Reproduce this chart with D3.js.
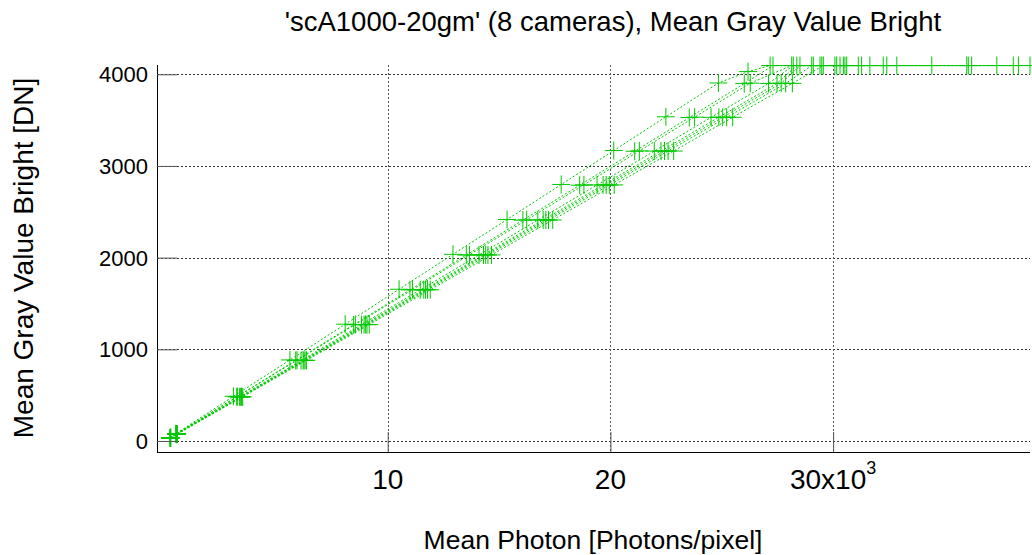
<!DOCTYPE html>
<html>
<head>
<meta charset="utf-8">
<script src="https://cdn.jsdelivr.net/npm/d3@7/dist/d3.min.js"></script>
<style>
  html, body { margin: 0; padding: 0; background: #fff; }
  svg { display: block; font-family: "Liberation Sans", Arial, sans-serif; }
</style>
</head>
<body>
<svg id="chart" width="1032" height="555"></svg>
<script>
// ---- Data (photons in thousands of photons/pixel, gray in DN) ----
const cameraNames = ["cam1", "cam2", "cam3", "cam4", "cam5", "cam6", "cam7", "cam8"];

const photonsCam1 = [0.22, 0.48, 3.08, 5.61, 8.09, 10.51, 12.93, 15.36, 17.79, 20.15, 22.49, 24.85, 26.18, 27.17, 29.41, 31.65, 34.43];
const grayCam1    = [36, 78, 488, 884, 1274, 1655, 2036, 2416, 2798, 3168, 3536, 3905, 4029, 4095, 4095, 4095, 4095];

const photonsCam2 = [0.23, 0.50, 3.22, 5.87, 8.47, 11.00, 13.53, 16.07, 18.62, 21.09, 23.54, 26.01, 27.30, 29.49, 32.25, 36.00, 38.84];
const grayCam2    = [34, 76, 482, 879, 1268, 1648, 2028, 2409, 2790, 3160, 3528, 3898, 4095, 4095, 4095, 4095, 4095];

const photonsCam3 = [0.24, 0.51, 3.25, 5.93, 8.55, 11.11, 13.67, 16.24, 18.81, 21.30, 23.78, 26.28, 28.14, 30.31, 32.41, 37.35];
const grayCam3    = [35, 77, 484, 881, 1271, 1651, 2031, 2412, 2794, 3164, 3532, 3903, 4095, 4095, 4095, 4095];

const photonsCam4 = [0.24, 0.52, 3.35, 6.11, 8.82, 11.46, 14.10, 16.74, 19.40, 21.97, 24.52, 27.10, 28.21, 30.46, 32.86, 38.09];
const grayCam4    = [33, 74, 481, 878, 1269, 1649, 2029, 2410, 2792, 3162, 3530, 3900, 4095, 4095, 4095, 4095];

const photonsCam5 = [0.25, 0.53, 3.40, 6.20, 8.94, 11.62, 14.30, 16.98, 19.67, 22.27, 24.87, 27.48, 28.37, 30.53, 36.22];
const grayCam5    = [34, 75, 482, 879, 1270, 1650, 2030, 2411, 2793, 3163, 3531, 3901, 4095, 4095, 4095];

const photonsCam6 = [0.25, 0.53, 3.43, 6.24, 9.01, 11.70, 14.40, 17.10, 19.81, 22.43, 25.04, 27.67, 28.51, 29.11, 30.61, 36.07];
const grayCam6    = [35, 76, 483, 880, 1271, 1650, 2030, 2411, 2793, 3163, 3531, 3902, 4095, 4095, 4095, 4095];

const photonsCam7 = [0.25, 0.54, 3.45, 6.29, 9.07, 11.79, 14.50, 17.22, 19.95, 22.59, 25.22, 27.87, 29.04, 30.08, 31.13, 38.32];
const grayCam7    = [33, 75, 481, 879, 1269, 1649, 2029, 2410, 2792, 3162, 3530, 3900, 4095, 4095, 4095, 4095];

const photonsCam8 = [0.26, 0.55, 3.49, 6.35, 9.17, 11.91, 14.66, 17.41, 20.17, 22.84, 25.49, 28.17, 29.56, 30.16, 31.28];
const grayCam8    = [34, 76, 482, 880, 1270, 1650, 2030, 2411, 2793, 3163, 3531, 3901, 4095, 4095, 4095];

const xTickValues = [10, 20, 30];
const xTickLabels = ["10", "20", "30x10"];
const yTickValues = [0, 1000, 2000, 3000, 4000];

const titleText  = "'scA1000-20gm' (8 cameras), Mean Gray Value Bright";
const xAxisTitle = "Mean Photon [Photons/pixel]";
const yAxisTitle = "Mean Gray Value Bright [DN]";

const photonSeries = [photonsCam1, photonsCam2, photonsCam3, photonsCam4, photonsCam5, photonsCam6, photonsCam7, photonsCam8];
const graySeries   = [grayCam1, grayCam2, grayCam3, grayCam4, grayCam5, grayCam6, grayCam7, grayCam8];
const series = cameraNames.map((name, i) => ({
  name,
  points: photonSeries[i].map((p, j) => ({ x: p, y: graySeries[i][j] }))
}));

// ---- Layout ----
const plot = { left: 157, right: 1030, top: 65, bottom: 452 };
const green = "#00c800";

const svg = d3.select("#chart");

const x = d3.scaleLinear().domain([-0.359, 38.84]).range([plot.left, plot.right]);
const y = d3.scaleLinear().domain([-120, 4101]).range([plot.bottom, plot.top]);

// Grid lines
const grid = svg.append("g");
grid.selectAll("line.h").data(yTickValues).join("line")
  .attr("x1", plot.left).attr("x2", plot.right)
  .attr("y1", d => Math.round(y(d)) + 0.5).attr("y2", d => Math.round(y(d)) + 0.5)
  .attr("stroke", "#333").attr("stroke-width", 1).attr("stroke-dasharray", "2,2");
grid.selectAll("line.v").data(xTickValues).join("line")
  .attr("y1", plot.top).attr("y2", plot.bottom)
  .attr("x1", d => Math.round(x(d)) + 0.5).attr("x2", d => Math.round(x(d)) + 0.5)
  .attr("stroke", "#555").attr("stroke-width", 1).attr("stroke-dasharray", "2,2");

// Series lines
const line = d3.line().x(d => x(d.x)).y(d => y(d.y));
const gSeries = svg.append("g");
gSeries.selectAll("path").data(series).join("path")
  .attr("d", d => line(d.points))
  .attr("fill", "none")
  .attr("stroke", green)
  .attr("stroke-width", 1)
  .attr("stroke-dasharray", "2,2");

// Markers (+)
const ms = 9;
const gMarks = svg.append("g");
series.forEach(s => {
  const g = gMarks.append("g");
  g.selectAll("path").data(s.points).join("path")
    .attr("d", d => {
      const cx = x(d.x), cy = y(d.y);
      return `M${cx - ms},${cy}H${cx + ms}M${cx},${cy - ms}V${cy + ms}`;
    })
    .attr("stroke", green)
    .attr("stroke-width", 1)
    .attr("fill", "none");
});

// Axes
const xAxis = d3.axisBottom(x).tickValues(xTickValues).tickSize(-20).tickFormat(() => "");
const yAxis = d3.axisLeft(y).tickValues(yTickValues).tickSize(-20).tickFormat(() => "");

const gx = svg.append("g").attr("transform", `translate(0,${plot.bottom})`).call(xAxis);
gx.select(".domain").attr("stroke", "#000").attr("d", `M${plot.left},0.5H${plot.right}`);
gx.selectAll(".tick line").attr("stroke", "#555");

const gy = svg.append("g").attr("transform", `translate(${plot.left},0)`).call(yAxis);
gy.select(".domain").attr("stroke", "#000").attr("d", `M0.5,${plot.top}V${plot.bottom}`);
gy.selectAll(".tick line").attr("stroke", "#555");

// Tick labels
svg.append("g").selectAll("text").data(yTickValues).join("text")
  .attr("x", 148).attr("y", d => y(d)).attr("dy", "0.36em")
  .attr("text-anchor", "end").attr("font-size", 22).attr("fill", "#000")
  .text(d => d);

const xl = svg.append("g");
xTickValues.forEach((v, i) => {
  const t = xl.append("text")
    .attr("x", x(v)).attr("y", 489)
    .attr("text-anchor", "middle").attr("font-size", 28).attr("fill", "#000");
  t.append("tspan").text(xTickLabels[i]);
  if (i === xTickValues.length - 1) {
    t.append("tspan").attr("font-size", 18).attr("dy", -15).text("3");
  }
});

// Titles
svg.append("text").attr("x", 613).attr("y", 31)
  .attr("text-anchor", "middle").attr("font-size", 27.5).attr("fill", "#000")
  .text(titleText);

svg.append("text").attr("x", 593).attr("y", 549)
  .attr("text-anchor", "middle").attr("font-size", 26.5).attr("fill", "#000")
  .text(xAxisTitle);

svg.append("text")
  .attr("transform", `translate(33,258) rotate(-90)`)
  .attr("text-anchor", "middle").attr("font-size", 28).attr("fill", "#000")
  .text(yAxisTitle);
</script>
</body>
</html>
